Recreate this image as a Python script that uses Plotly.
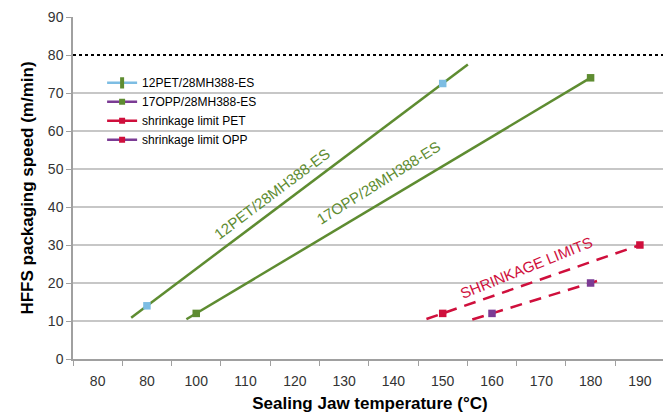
import numpy as np
import plotly.graph_objects as go

# ---- data ----
x_tickvals = [80, 90, 100, 110, 120, 130, 140, 150, 160, 170, 180, 190]
x_ticktext = ["80", "80", "100", "110", "120", "130", "140", "150", "160", "170", "180", "190"]

pet_x = [90, 150]
pet_y = [14, 72.5]
opp_x = [100, 180]
opp_y = [12, 74]
shr_pet_x = [150, 190]
shr_pet_y = [12, 30]
shr_opp_x = [160, 180]
shr_opp_y = [12, 20]
max_speed = 80

names = ["12PET/28MH388-ES", "17OPP/28MH388-ES", "shrinkage limit PET", "shrinkage limit OPP"]

GREEN = "#5e8c31"
LBLUE = "#7dbde3"
CRIMSON = "#cf0f3c"
PURPLE = "#7b3b94"

X_RANGE = [75, 195.5]


def trend(x, y, back, fwd):
    k, b = np.polyfit(x, y, 1)
    xs = np.array([min(x) - back, max(x) + fwd])
    return xs, k * xs + b


fig = go.Figure()

# max speed dotted line
fig.add_trace(go.Scatter(x=X_RANGE, y=[max_speed, max_speed], mode="lines",
                         line=dict(color="black", width=2, dash="dot"),
                         showlegend=False, hoverinfo="skip"))

# trendlines
series = [
    (pet_x, pet_y, 3.2, 5.1, GREEN, "solid", LBLUE),
    (opp_x, opp_y, 2.0, 0.3, GREEN, "solid", GREEN),
    (shr_pet_x, shr_pet_y, 3.3, 0.3, CRIMSON, "dash", CRIMSON),
    (shr_opp_x, shr_opp_y, 4.0, 1.3, CRIMSON, "dash", PURPLE),
]
for x, y, back, fwd, lc, dash, mc in series:
    tx, ty = trend(x, y, back, fwd)
    fig.add_trace(go.Scatter(x=tx, y=ty, mode="lines",
                             line=dict(color=lc, width=2.5,
                                       dash="12px,8px" if dash == "dash" else "solid"),
                             showlegend=False, hoverinfo="skip"))
for x, y, back, fwd, lc, dash, mc in series:
    fig.add_trace(go.Scatter(x=x, y=y, mode="markers",
                             marker=dict(symbol="square", size=7.5, color=mc),
                             showlegend=False))

# legend entries
legend_style = [
    (LBLUE, GREEN, "line-ns"),
    (PURPLE, GREEN, "square"),
    (CRIMSON, CRIMSON, "square"),
    (PURPLE, CRIMSON, "square"),
]
for name, (lc, mc, sym) in zip(names, legend_style):
    if sym == "line-ns":
        mk = dict(symbol="line-ns", size=8, line=dict(color=mc, width=4), color=mc)
    else:
        mk = dict(symbol="square", size=6, color=mc)
    fig.add_trace(go.Scatter(x=[None], y=[None], mode="lines+markers", name=name,
                             line=dict(color=lc, width=2.5), marker=mk))

# line annotations
fig.add_annotation(x=115.4, y=43.5, text="12PET/28MH388-ES", showarrow=False,
                   textangle=-37, font=dict(size=15, color=GREEN, family="Liberation Sans"))
fig.add_annotation(x=137.0, y=46.5, text="17OPP/28MH388-ES", showarrow=False,
                   textangle=-32, font=dict(size=15, color=GREEN, family="Liberation Sans"))
fig.add_annotation(x=167.0, y=24.0, text="SHRINKAGE LIMITS", showarrow=False,
                   textangle=-22, font=dict(size=15, color=CRIMSON, family="Liberation Sans"))

fig.update_layout(
    width=671, height=417,
    margin=dict(l=65, r=12, t=9, b=66),
    paper_bgcolor="white", plot_bgcolor="white",
    font=dict(family="Liberation Sans", size=14, color="#333"),
    legend=dict(x=0.049, y=0.85, xanchor="left", yanchor="top",
                bgcolor="rgba(0,0,0,0)", font=dict(size=12, color="black"),
                tracegroupgap=0, itemwidth=30),
    xaxis=dict(range=X_RANGE, tickmode="array", tickvals=x_tickvals, ticktext=x_ticktext,
               ticks="", showgrid=False, zeroline=False, automargin=False,
               ticklabelstandoff=8,
               showline=True, linecolor="#a0a0a0", linewidth=1.5,
               minor=dict(tickmode="linear", tick0=75, dtick=10, ticks="outside",
                          ticklen=5, tickcolor="#a0a0a0", tickwidth=1, showgrid=False),
               title=dict(text="<b>Sealing Jaw temperature (°C)</b>",
                          font=dict(size=17, color="black"), standoff=10),
               tickfont=dict(size=14, color="#333")),
    yaxis=dict(range=[0, 90], tickmode="array", tickvals=list(range(0, 91, 10)),
               ticks="outside", ticklen=5, tickcolor="#a0a0a0",
               showgrid=False, zeroline=False, automargin=False,
               showline=True, linecolor="#a0a0a0", linewidth=1.5,
               title=dict(text="<b>HFFS packaging speed (m/min)</b>",
                          font=dict(size=17, color="black"), standoff=10),
               tickfont=dict(size=14, color="#333")),
)

# horizontal gridlines (10..70) as shapes bound to the y scale
for gy in range(10, 80, 10):
    fig.add_shape(type="line", xref="paper", x0=0, x1=1, yref="y", y0=gy, y1=gy,
                  line=dict(color="#b4b4b4", width=1.5), layer="below")

fig.write_html("out.html")
